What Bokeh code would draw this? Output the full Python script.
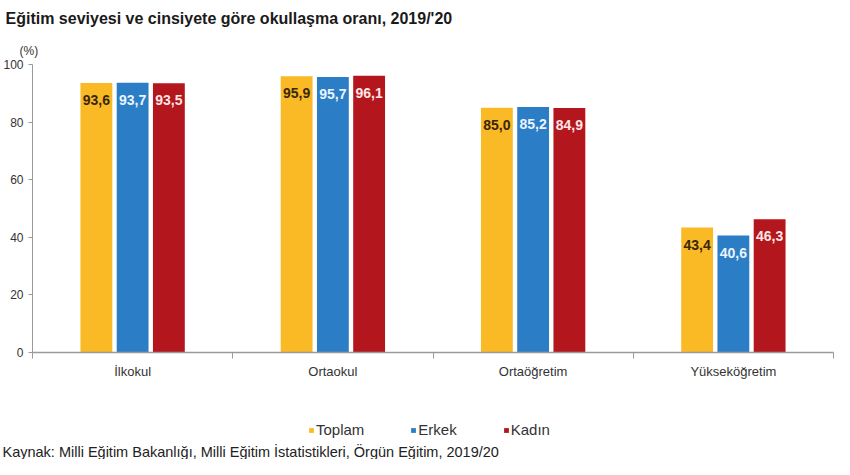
from bokeh.plotting import figure
from bokeh.layouts import column
from bokeh.models import (ColumnDataSource, Range1d, FixedTicker, Legend, LegendItem, Title)
from bokeh.core.properties import value
from bokeh.embed import file_html
from bokeh.resources import INLINE

categories = ["İlkokul", "Ortaokul", "Ortaöğretim", "Yükseköğretim"]
toplam = [93.6, 95.9, 85.0, 43.4]
erkek = [93.7, 95.7, 85.2, 40.6]
kadin = [93.5, 96.1, 84.9, 46.3]
series_names = ["Toplam", "Erkek", "Kadın"]
y_ticks = [0, 20, 40, 60, 80, 100]

colors = ["#F9BA26", "#2B7EC6", "#B3161C"]
label_colors = ["#3A2608", "#EAF4FF", "#FFE6E6"]
FONT = "Liberation Sans"

centers = [i + 0.5 for i in range(len(categories))]
offsets = [-0.181, 0.0, 0.181]
bar_w = 0.159

W = 834
H1 = 387
H2 = 72

p = figure(width=W, height=H1, x_range=Range1d(0, len(categories)),
           y_range=Range1d(0, 100), output_backend="svg", toolbar_location=None,
           title=None, min_border_left=27, min_border_right=1, min_border_top=0,
           min_border_bottom=35)
p.outline_line_color = None
p.grid.visible = False

p.add_layout(Title(text="(%)", text_font=FONT, text_font_size="12px", text_font_style="normal",
                   text_color="#333333", align="left", offset=-13, standoff=14), "above")
p.add_layout(Title(text="Eğitim seviyesi ve cinsiyete göre okullaşma oranı, 2019/'20",
                   text_font=FONT, text_font_size="16px", text_font_style="bold",
                   text_color="#1a1a1a", align="left", offset=-27, standoff=15), "above")

for s, vals, c, lc, off in zip(series_names, [toplam, erkek, kadin], colors, label_colors, offsets):
    src = ColumnDataSource(dict(x=[cx + off for cx in centers], top=vals,
                                lab=[f"{v:.1f}".replace(".", ",") for v in vals]))
    p.vbar(x="x", top="top", width=bar_w, source=src, fill_color=c, line_color=None)
    p.text(x="x", y="top", text="lab", source=src, text_align="center",
           text_baseline="middle", y_offset=17, text_color=lc,
           text_font=value(FONT), text_font_style="bold", text_font_size="14px")

xa = p.xaxis[0]
xa.ticker = FixedTicker(ticks=centers, minor_ticks=list(range(len(categories) + 1)))
xa.major_label_overrides = {c: n for c, n in zip(centers, categories)}
xa.major_tick_line_color = None
xa.minor_tick_out = 6
xa.minor_tick_in = 0
xa.minor_tick_line_color = "#9a9a9a"
xa.axis_line_color = "#9a9a9a"
xa.axis_line_width = 1.5
xa.major_label_text_font = FONT
xa.major_label_text_font_size = "13px"
xa.major_label_text_color = "#333333"
xa.major_label_standoff = 5

ya = p.yaxis[0]
ya.ticker = FixedTicker(ticks=y_ticks)
ya.axis_line_color = "#9a9a9a"
ya.major_tick_line_color = "#9a9a9a"
ya.major_tick_out = 4
ya.major_tick_in = 0
ya.minor_tick_line_color = None
ya.major_label_text_font = FONT
ya.major_label_text_font_size = "12px"
ya.major_label_text_color = "#333333"
ya.major_label_standoff = 5

# footer: legend + source note
f = figure(width=W, height=H2, x_range=Range1d(0, 1), y_range=Range1d(0, 1),
           output_backend="svg", toolbar_location=None, title=None,
           x_axis_type=None, y_axis_type=None, min_border=0)
f.outline_line_color = None
f.grid.visible = False

items = []
for s, c in zip(series_names, colors):
    # zero-height swatch renderers, used only for the legend entries
    r = f.vbar(x=[0.5], bottom=[0], top=[0], width=0, fill_color=c, line_color=None)
    items.append(LegendItem(label=s, renderers=[r]))

legend = Legend(items=items, orientation="horizontal", location=(276, 3),
                glyph_width=6, glyph_height=6, label_text_font=FONT,
                label_text_font_size="15px", label_text_color="#333333",
                spacing=46, label_standoff=2, border_line_color=None,
                padding=0, margin=0, background_fill_alpha=0)
f.add_layout(legend, "center")

f.add_layout(Title(text="Kaynak: Milli Eğitim Bakanlığı, Milli Eğitim İstatistikleri, Örgün Eğitim, 2019/20",
                   text_font=FONT, text_font_size="14.5px", text_font_style="normal",
                   text_color="#222222", align="left", offset=-30, standoff=0), "below")

layout = column(p, f, spacing=0)
open("out.html", "w").write(file_html(layout, INLINE))
